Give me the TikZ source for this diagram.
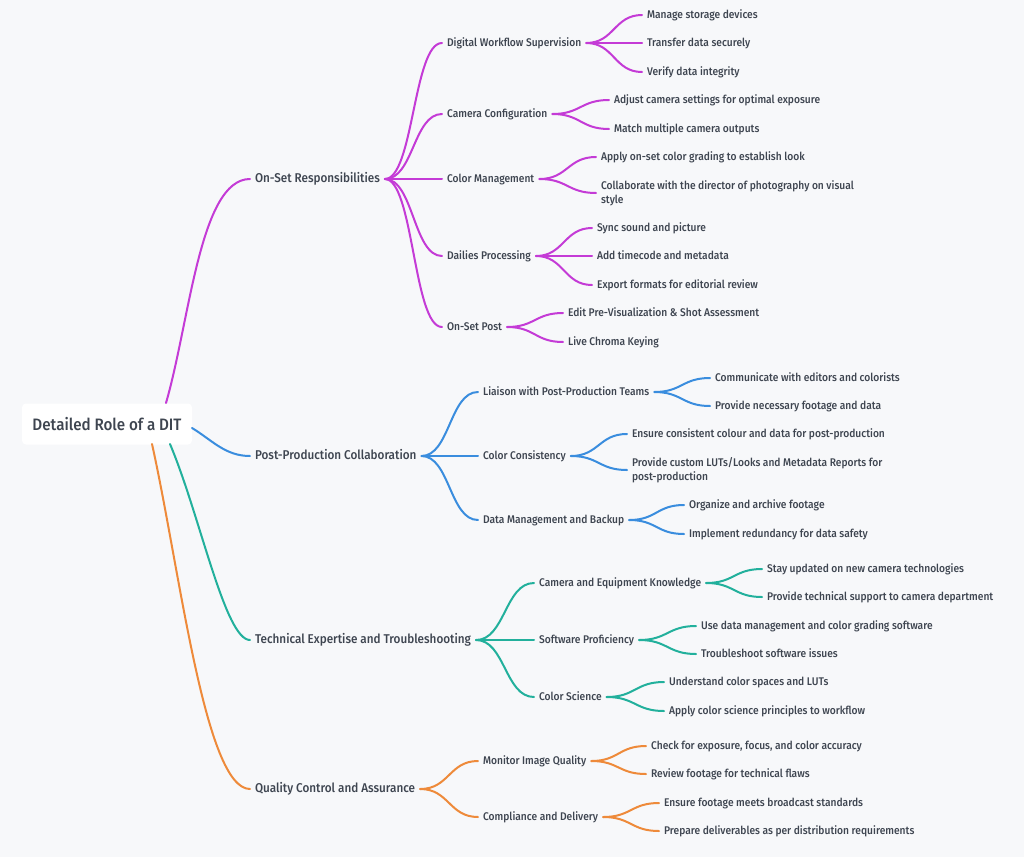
\documentclass[tikz,border=0pt]{standalone}
\usepackage{fontspec}
\setmainfont{Fira Sans}[UprightFont=* Medium, FakeStretch=0.92]
\usetikzlibrary{calc}
\definecolor{bg}{HTML}{F7F8FA}
\definecolor{txt}{HTML}{3E4550}
\definecolor{cP}{HTML}{C43BD6}
\definecolor{cB}{HTML}{3A8DDE}
\definecolor{cT}{HTML}{22B09C}
\definecolor{cO}{HTML}{EE8A3A}
\tikzset{
  lone/.style={anchor=west, text=txt, inner xsep=3.6pt, inner ysep=1pt, text height=7pt, text depth=2pt, font=\fontsize{9.55}{11}\selectfont},
  ltwo/.style={anchor=west, text=txt, inner xsep=3.6pt, inner ysep=1pt, text height=6.4pt, text depth=1.8pt, font=\fontsize{8.35}{10.5}\selectfont},
  lmulti/.style={anchor=west, text=txt, inner xsep=3.6pt, inner ysep=1pt, align=left, font=\fontsize{8.35}{10.5}\selectfont},
  link/.style={line width=1.5pt, line cap=round},
  rootbox/.style={fill=white, rounded corners=3pt, minimum width=127.5pt, minimum height=30.75pt, text=txt, font=\fontsize{12.4}{14}\selectfont}
}
\newcommand\lnk[3]{\draw[link,#1] (#2.east) let \p1=(#2.east), \p2=(#3.west) in .. controls ({(\x1+\x2)/2},\y1) and ({(\x1+\x2)/2},\y2) .. (\p2);}
\begin{document}
\begin{tikzpicture}[x=0.75pt,y=-0.75pt]
\fill[bg] (0,0) rectangle (1024,857);
\useasboundingbox (0,0) rectangle (1024,857);
% root
\node[rootbox] (root) at (107,424) {Detailed Role of a DIT};
\coordinate (s1) at (166,403);
\coordinate (s2) at (192,428);
\coordinate (s3) at (170,444);
\coordinate (s4) at (152,444);
% level 1
\node[lone] (ons) at (250,179) {On-Set Responsibilities};
\node[lone] (ppc) at (250,456) {Post-Production Collaboration};
\node[lone] (tet) at (250,640) {Technical Expertise and Troubleshooting};
\node[lone] (qca) at (250,789) {Quality Control and Assurance};
\draw[link,cP] (s1) .. controls (190,320) and (200,179) .. (ons.west);
\draw[link,cB] (s2) .. controls (212,440) and (225,456) .. (ppc.west);
\draw[link,cT] (s3) .. controls (200,515) and (225,640) .. (tet.west);
\draw[link,cO] (s4) .. controls (180,570) and (205,789) .. (qca.west);
% level 2
\node[ltwo] (dws) at (442,43) {Digital Workflow Supervision};
\node[ltwo] (cc) at (442,114) {Camera Configuration};
\node[ltwo] (cm) at (442,179) {Color Management};
\node[ltwo] (dp) at (442,256) {Dailies Processing};
\node[ltwo] (osp) at (442,327) {On-Set Post};
\node[ltwo] (lpt) at (478,392) {Liaison with Post-Production Teams};
\node[ltwo] (ccs) at (478,456) {Color Consistency};
\node[ltwo] (dmb) at (478,520) {Data Management and Backup};
\node[ltwo] (cek) at (534,583) {Camera and Equipment Knowledge};
\node[ltwo] (sp) at (534,640) {Software Proficiency};
\node[ltwo] (cs) at (534,697) {Color Science};
\node[ltwo] (miq) at (478,761) {Monitor Image Quality};
\node[ltwo] (cad) at (478,817) {Compliance and Delivery};
\foreach \k in {dws,cc,cm,dp,osp}{\lnk{cP}{ons}{\k}}
\foreach \k in {lpt,ccs,dmb}{\lnk{cB}{ppc}{\k}}
\foreach \k in {cek,sp,cs}{\lnk{cT}{tet}{\k}}
\foreach \k in {miq,cad}{\lnk{cO}{qca}{\k}}
% level 3
\node[ltwo] (a1) at (642,15) {Manage storage devices};
\node[ltwo] (a2) at (642,43) {Transfer data securely};
\node[ltwo] (a3) at (642,72) {Verify data integrity};
\node[ltwo] (b1) at (609,100) {Adjust camera settings for optimal exposure};
\node[ltwo] (b2) at (609,129) {Match multiple camera outputs};
\node[ltwo] (c1) at (596,157) {Apply on-set color grading to establish look};
\node[lmulti] (c2) at (596,193) {Collaborate with the director of photography on visual\\style};
\node[ltwo] (d1) at (592,228) {Sync sound and picture};
\node[ltwo] (d2) at (592,256) {Add timecode and metadata};
\node[ltwo] (d3) at (592,285) {Export formats for editorial review};
\node[ltwo] (e1) at (563,313) {Edit Pre-Visualization \& Shot Assessment};
\node[ltwo] (e2) at (563,342) {Live Chroma Keying};
\node[ltwo] (f1) at (710,378) {Communicate with editors and colorists};
\node[ltwo] (f2) at (710,406) {Provide necessary footage and data};
\node[ltwo] (g1) at (627,434) {Ensure consistent colour and data for post-production};
\node[lmulti] (g2) at (627,470) {Provide custom LUTs/Looks and Metadata Reports for\\post-production};
\node[ltwo] (h1) at (684,505) {Organize and archive footage};
\node[ltwo] (h2) at (684,534) {Implement redundancy for data safety};
\node[ltwo] (i1) at (762,569) {Stay updated on new camera technologies};
\node[ltwo] (i2) at (762,597) {Provide technical support to camera department};
\node[ltwo] (j1) at (696,626) {Use data management and color grading software};
\node[ltwo] (j2) at (696,654) {Troubleshoot software issues};
\node[ltwo] (k1) at (664,682) {Understand color spaces and LUTs};
\node[ltwo] (k2) at (664,711) {Apply color science principles to workflow};
\node[ltwo] (l1) at (646,746) {Check for exposure, focus, and color accuracy};
\node[ltwo] (l2) at (646,774) {Review footage for technical flaws};
\node[ltwo] (m1) at (659,803) {Ensure footage meets broadcast standards};
\node[ltwo] (m2) at (659,831) {Prepare deliverables as per distribution requirements};
\foreach \k in {a1,a2,a3}{\lnk{cP}{dws}{\k}}
\foreach \k in {b1,b2}{\lnk{cP}{cc}{\k}}
\foreach \k in {c1,c2}{\lnk{cP}{cm}{\k}}
\foreach \k in {d1,d2,d3}{\lnk{cP}{dp}{\k}}
\foreach \k in {e1,e2}{\lnk{cP}{osp}{\k}}
\foreach \k in {f1,f2}{\lnk{cB}{lpt}{\k}}
\foreach \k in {g1,g2}{\lnk{cB}{ccs}{\k}}
\foreach \k in {h1,h2}{\lnk{cB}{dmb}{\k}}
\foreach \k in {i1,i2}{\lnk{cT}{cek}{\k}}
\foreach \k in {j1,j2}{\lnk{cT}{sp}{\k}}
\foreach \k in {k1,k2}{\lnk{cT}{cs}{\k}}
\foreach \k in {l1,l2}{\lnk{cO}{miq}{\k}}
\foreach \k in {m1,m2}{\lnk{cO}{cad}{\k}}
\end{tikzpicture}
\end{document}
